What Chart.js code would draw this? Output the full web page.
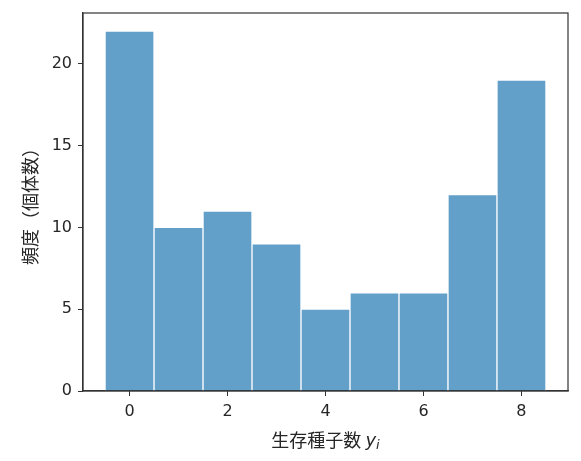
<!DOCTYPE html>
<html>
<head>
<meta charset="utf-8">
<script src="https://cdn.jsdelivr.net/npm/chart.js@4/dist/chart.umd.min.js"></script>
<style>
  body { margin: 0; background: #fff; }
  #wrap { width: 581px; height: 461px; }
</style>
</head>
<body>
<div id="wrap"><canvas id="hist"></canvas></div>
<script>
// dados do histograma
const seeds = [0, 1, 2, 3, 4, 5, 6, 7, 8];
const counts = [22, 10, 11, 9, 5, 6, 6, 12, 19];
const xTicks = [0, 2, 4, 6, 8];
const yTicks = [0, 5, 10, 15, 20];

const HIST = document.querySelector("#hist");
const tickFont = { family: "DejaVu Sans", size: 16 };
const cjk = "'Noto Sans CJK JP', 'DejaVu Sans'";

// moldura do eixo (top e right)
const frame = {
  id: "frame",
  afterDraw(chart) {
    const { ctx, chartArea: a } = chart;
    ctx.save();
    ctx.strokeStyle = "#333";
    ctx.lineWidth = 1.2;
    ctx.strokeRect(a.left, a.top, a.right - a.left, a.bottom - a.top);

    // titulo do eixo x com y italico e i subscrito
    const cx = (a.left + a.right) / 2;
    const y = 440;
    ctx.fillStyle = "#262626";
    ctx.textBaseline = "middle";
    ctx.font = "18px " + cjk;
    const t1 = "生存種子数 ";
    const w1 = ctx.measureText(t1).width;
    ctx.font = "italic 18px 'DejaVu Sans'";
    const w2 = ctx.measureText("y").width;
    ctx.font = "italic 13px 'DejaVu Sans'";
    const w3 = ctx.measureText("i").width;
    let x = cx - (w1 + w2 + w3) / 2;
    ctx.font = "18px " + cjk;
    ctx.fillText(t1, x, y);
    x += w1;
    ctx.font = "italic 18px 'DejaVu Sans'";
    ctx.fillText("y", x, y + 1);
    x += w2;
    ctx.font = "italic 13px 'DejaVu Sans'";
    ctx.fillText("i", x, y + 6);
    ctx.restore();
  },
};

let histograma = new Chart(HIST, {
  type: "bar",
  data: {
    datasets: [
      {
        label: "counts",
        data: seeds.map((s, i) => ({ x: s, y: counts[i] })),
        backgroundColor: "rgba(31,119,180,0.7)",
        borderColor: "#ffffff",
        borderWidth: 1,
        barPercentage: 1,
        categoryPercentage: 1,
      },
    ],
  },
  options: {
    responsive: true,
    maintainAspectRatio: false,
    animation: false,
    layout: { padding: { left: 19, top: 13, right: 13, bottom: 0 } },
    plugins: {
      legend: { display: false },
      tooltip: { enabled: false },
    },
    scales: {
      x: {
        type: "linear",
        offset: false,
        min: -0.95,
        max: 8.95,
        afterBuildTicks: (s) => { s.ticks = xTicks.map((v) => ({ value: v })); },
        afterFit: (s) => { s.height = 70; s.paddingLeft = 0; s.paddingRight = 0; },
        grid: { offset: false, drawOnChartArea: false, drawTicks: true, tickLength: 5, tickColor: "#333" },
        border: { display: true, color: "#333", width: 1.2 },
        ticks: { color: "#262626", font: tickFont, padding: 6, maxRotation: 0 },
      },
      y: {
        min: 0,
        max: 23.1,
        afterBuildTicks: (s) => { s.ticks = yTicks.map((v) => ({ value: v })); },
        afterFit: (s) => { s.width = 64; s.paddingTop = 0; s.paddingBottom = 0; },
        grid: { drawOnChartArea: false, drawTicks: true, tickLength: 5, tickColor: "#333" },
        border: { display: true, color: "#333", width: 1.2 },
        ticks: { color: "#262626", font: tickFont, padding: 6 },
        title: {
          display: true,
          text: "頻度（個体数）",
          color: "#262626",
          font: { family: "Noto Sans CJK JP", size: 18 },
          padding: { top: 0, bottom: 0 },
        },
      },
    },
  },
  plugins: [frame],
});
</script>
</body>
</html>
